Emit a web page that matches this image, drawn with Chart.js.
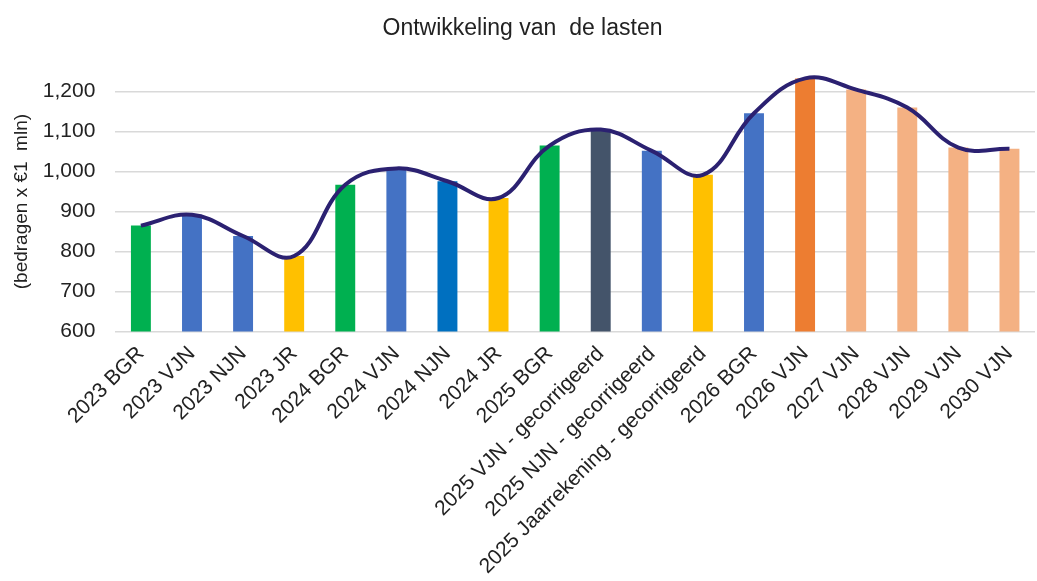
<!DOCTYPE html>
<html>
<head>
<meta charset="utf-8">
<script src="https://cdn.jsdelivr.net/npm/chart.js@4/dist/chart.umd.min.js"></script>
<style>
  html, body { margin: 0; padding: 0; background: #fff; }
  #wrap { width: 1037px; height: 581px; }
</style>
</head>
<body>
<div id="wrap"><canvas id="lasten"></canvas></div>
<script>
// categorieën en waarden (x €1 mln)
const categories = [
  '2023 BGR', '2023 VJN', '2023 NJN', '2023 JR',
  '2024 BGR', '2024 VJN', '2024 NJN', '2024 JR',
  '2025 BGR', '2025 VJN - gecorrigeerd', '2025 NJN - gecorrigeerd',
  '2025 Jaarrekening - gecorrigeerd',
  '2026 BGR', '2026 VJN', '2027 VJN', '2028 VJN', '2029 VJN', '2030 VJN'
];
const lasten = [865, 892, 839, 789, 967, 1008, 976, 934, 1065, 1105, 1052, 992, 1146, 1233, 1205, 1160, 1060, 1057];
const barColors = [
  '#00B050', '#4472C4', '#4472C4', '#FFC000',
  '#00B050', '#4472C4', '#0070C0', '#FFC000',
  '#00B050', '#44546A', '#4472C4', '#FFC000',
  '#4472C4', '#ED7D31', '#F4B183', '#F4B183', '#F4B183', '#F4B183'
];
const yTicks = [600, 700, 800, 900, 1000, 1100, 1200];

const font = 'Liberation Sans, Arial, sans-serif';

new Chart(document.getElementById('lasten'), {
  data: {
    labels: categories,
    datasets: [
      {
        type: 'line',
        data: lasten,
        borderColor: '#2B2171',
        borderWidth: 4,
        tension: 0.4,
        pointRadius: 0,
        fill: false,
        order: 0
      },
      {
        type: 'bar',
        data: lasten,
        backgroundColor: barColors,
        barPercentage: 0.78,
        categoryPercentage: 0.5,
        order: 1
      }
    ]
  },
  options: {
    responsive: true,
    maintainAspectRatio: false,
    animation: false,
    locale: 'en-US',
    layout: { padding: { top: 4, right: 2, left: 10, bottom: 0 } },
    plugins: {
      legend: { display: false },
      tooltip: { enabled: false },
      title: {
        display: true,
        text: 'Ontwikkeling van  de lasten',
        color: '#222',
        font: { family: font, size: 23, weight: 'normal' },
        padding: { top: 11, bottom: 29 }
      }
    },
    scales: {
      x: {
        grid: { display: false },
        border: { display: false },
        ticks: {
          color: '#222',
          font: { family: font, size: 21 },
          maxRotation: 45,
          minRotation: 45,
          autoSkip: false,
          padding: 2
        }
      },
      y: {
        min: 600,
        max: 1250,
        afterBuildTicks: axis => { axis.ticks = yTicks.map(v => ({ value: v })); },
        grid: { color: '#d9d9d9', lineWidth: 1.5, drawTicks: false },
        border: { display: false },
        ticks: {
          color: '#222',
          font: { family: font, size: 21 },
          padding: 20,
          callback: v => v.toLocaleString('en-US')
        },
        title: {
          display: true,
          text: '(bedragen x €1  mln)',
          color: '#222',
          font: { family: font, size: 19 },
          padding: { top: 0, bottom: -10 }
        }
      }
    }
  }
});
</script>
</body>
</html>
